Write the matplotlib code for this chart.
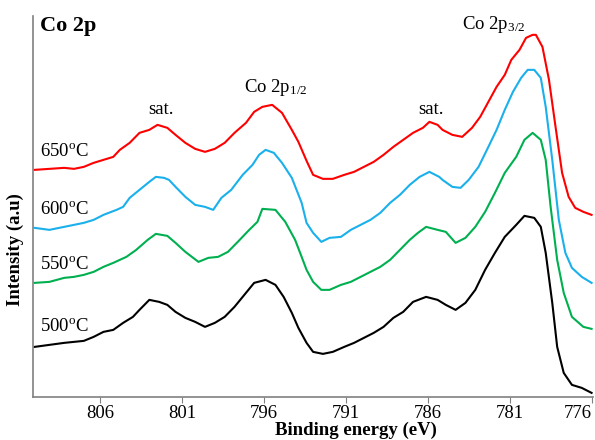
import matplotlib
matplotlib.use('Agg')
import matplotlib.pyplot as plt

plt.rcParams['font.family'] = 'Liberation Serif'
plt.rcParams['mathtext.fontset'] = 'custom'
plt.rcParams['mathtext.rm'] = 'Liberation Serif'
plt.rcParams['mathtext.it'] = 'Liberation Serif:italic'
plt.rcParams['mathtext.bf'] = 'Liberation Serif:bold'

# binding energy (eV) and intensity (a.u., stacked offsets)
e_500 = [810.0, 809.1, 808.2, 807.6, 807.0, 806.4, 805.8, 805.2, 804.6, 804.0,
         803.6, 803.0, 802.4, 801.9, 801.4, 800.8, 800.2, 799.6, 799.0, 798.4,
         797.8, 797.1, 796.6, 795.9, 795.3, 794.8, 794.3, 793.9, 793.4,
         793.0, 792.4, 791.8, 791.1, 790.5, 789.9, 789.3, 788.7, 788.1, 787.5,
         786.9, 786.1, 785.4, 784.9, 784.3, 783.7, 783.1, 782.5, 781.9, 781.3,
         780.6, 780.1, 779.5, 779.1, 778.8, 778.4, 778.1, 777.7, 777.2,
         776.6, 776.0]
i_500 = [50, 52, 54, 55, 56, 60, 65, 67, 74, 80,
         87, 97, 95, 92, 85, 79, 75, 70, 74, 80,
         90, 104, 114, 117, 112, 100, 84, 69, 54,
         45, 43, 45, 50, 54, 59, 64, 70, 79, 85,
         95, 100, 97, 92, 87, 94, 107, 127, 144, 160,
         172, 181, 179, 170, 144, 94, 50, 24, 12,
         9, 4]

e_550 = [810.0, 809.1, 808.2, 807.6, 807.0, 806.4, 805.8, 805.2, 804.4, 803.8,
         803.1, 802.6, 801.9, 801.4, 800.8, 800.0, 799.4, 798.8, 798.2, 797.6,
         796.9, 796.4, 796.1, 795.3, 794.7, 794.1, 793.7, 793.4, 793.0,
         792.5, 792.0, 791.3, 790.7, 790.1, 789.5, 788.9, 788.3, 787.7, 787.1,
         786.6, 786.1, 785.4, 784.9, 784.3, 783.7, 783.1, 782.5, 781.9, 781.3,
         780.6, 780.1, 779.6, 779.1, 778.8, 778.5, 778.1, 777.7, 777.2, 776.5,
         776.0]
i_550 = [114, 115, 119, 120, 122, 125, 130, 134, 140, 147,
         157, 163, 161, 154, 145, 135, 139, 140, 145, 155,
         167, 175, 188, 187, 175, 157, 140, 127, 115,
         107, 107, 112, 115, 120, 125, 130, 137, 147, 157,
         164, 170, 167, 165, 154, 159, 170, 185, 204, 224,
         240, 257, 264, 257, 237, 190, 137, 104, 80, 70,
         68]

e_600 = [810.0, 809.1, 808.2, 807.6, 807.0, 806.4, 805.8, 805.0, 804.6, 804.2,
         803.6, 803.0, 802.6, 802.1, 801.8, 801.4, 800.8, 800.2, 799.6, 799.1,
         798.6, 798.0, 797.3, 796.7, 796.3, 795.9, 795.4, 794.9, 794.3, 793.7,
         793.4, 793.0, 792.5, 792.0, 791.3, 790.7, 790.1, 789.5, 788.9,
         788.3, 787.7, 787.1, 786.5, 785.9, 785.3, 785.1, 784.5, 784.0, 783.5,
         782.9, 782.3, 781.8, 781.3, 780.8, 780.3, 779.9, 779.5, 779.1, 778.8,
         778.4, 778.0, 777.6, 777.2, 776.6, 776.0]
i_600 = [169, 167, 170, 172, 174, 177, 182, 187, 190, 199,
         207, 215, 220, 219, 217, 210, 200, 192, 190, 187,
         199, 207, 222, 232, 242, 247, 244, 234, 219, 194,
         174, 164, 155, 159, 160, 167, 172, 177, 184,
         194, 202, 212, 220, 225, 220, 217, 210, 209, 217,
         230, 250, 267, 287, 305, 319, 327, 327, 319, 290,
         237, 177, 144, 129, 120, 114]

e_650 = [810.0, 809.1, 808.2, 807.6, 807.0, 806.4, 805.8, 805.2, 804.8, 804.2,
         803.6, 803.0, 802.5, 801.9, 801.4, 800.8, 800.2, 799.6, 799.0, 798.4,
         797.8, 797.1, 796.6, 796.1, 795.5, 794.9, 794.3, 793.9, 793.4,
         793.0, 792.4, 791.8, 791.1, 790.5, 789.9, 789.3, 788.7, 788.1, 787.5,
         786.9, 786.3, 785.9, 785.4, 785.1, 784.5, 783.9, 783.3, 782.8, 782.3,
         781.8, 781.3, 780.9, 780.4, 780.0, 779.6, 779.4, 779.0, 778.6, 778.2,
         777.8, 777.4, 777.0, 776.5, 776.0]
i_650 = [227, 228, 229, 228, 230, 234, 237, 240, 247, 254,
         264, 267, 272, 269, 262, 254, 248, 245, 248, 254,
         264, 274, 285, 290, 292, 284, 267, 255, 236,
         222, 218, 218, 222, 225, 230, 235, 242, 250, 257,
         264, 269, 275, 272, 267, 262, 260, 269, 280, 295,
         310, 322, 337, 347, 359, 362, 362, 350, 317, 270,
         224, 200, 189, 185, 182]

labels = ['500$^{\\mathrm{o}}$C', '550$^{\\mathrm{o}}$C', '600$^{\\mathrm{o}}$C', '650$^{\\mathrm{o}}$C']
label_y = [70, 132, 187, 245]
colors = ['#000000', '#00b050', '#1ab0ec', '#ff0000']
xticks = [806, 801, 796, 791, 786, 781, 776]

fig = plt.figure(figsize=(5.95, 4.4), dpi=100)
ax = fig.add_axes([0.0555, 0.098, 0.9415, 0.866])

series = [(e_500, i_500), (e_550, i_550), (e_600, i_600), (e_650, i_650)]
for (e, i), c in zip(series, colors):
    ax.plot(e, i, color=c, lw=1.5)

for lab, y in zip(labels, label_y):
    ax.text(809.7, y, lab, fontsize=13.5, ha='left', va='center')

ax.text(0.012, 1.0, 'Co 2p', transform=ax.transAxes, fontsize=16,
        fontweight='bold', ha='left', va='top')
ax.text(802.3, 287, 'sat.', fontsize=13.5, ha='center', va='center')
ax.text(785.8, 287, 'sat.', fontsize=13.5, ha='center', va='center')
ax.text(795.3, 309, 'Co 2p$_{1/2}$', fontsize=13.5, ha='center', va='center')
ax.text(782.0, 372, 'Co 2p$_{3/2}$', fontsize=13.5, ha='center', va='center')

ax.set_xlim(810.1, 775.9)
ax.set_ylim(0, 381)
ax.set_xticks(xticks)
ax.set_xticklabels([str(t) for t in xticks], fontsize=13.5)
ax.get_xticklabels()[-1].set_horizontalalignment('right')
ax.set_yticks([])
ax.tick_params(axis='x', direction='out', length=4, color='#808080', pad=2)

for s in ['top', 'right']:
    ax.spines[s].set_visible(False)
for s in ['left', 'bottom']:
    ax.spines[s].set_color('#808080')
    ax.spines[s].set_linewidth(1.2)

ax.set_xlabel('Binding energy (eV)', fontsize=13.5, fontweight='bold', va='center')
ax.xaxis.set_label_coords(0.577, -0.087)
ax.set_ylabel('Intensity (a.u)', fontsize=13.5, fontweight='bold', va='center')
ax.yaxis.set_label_coords(-0.032, 0.386)

fig.savefig('out.png', dpi=100)
